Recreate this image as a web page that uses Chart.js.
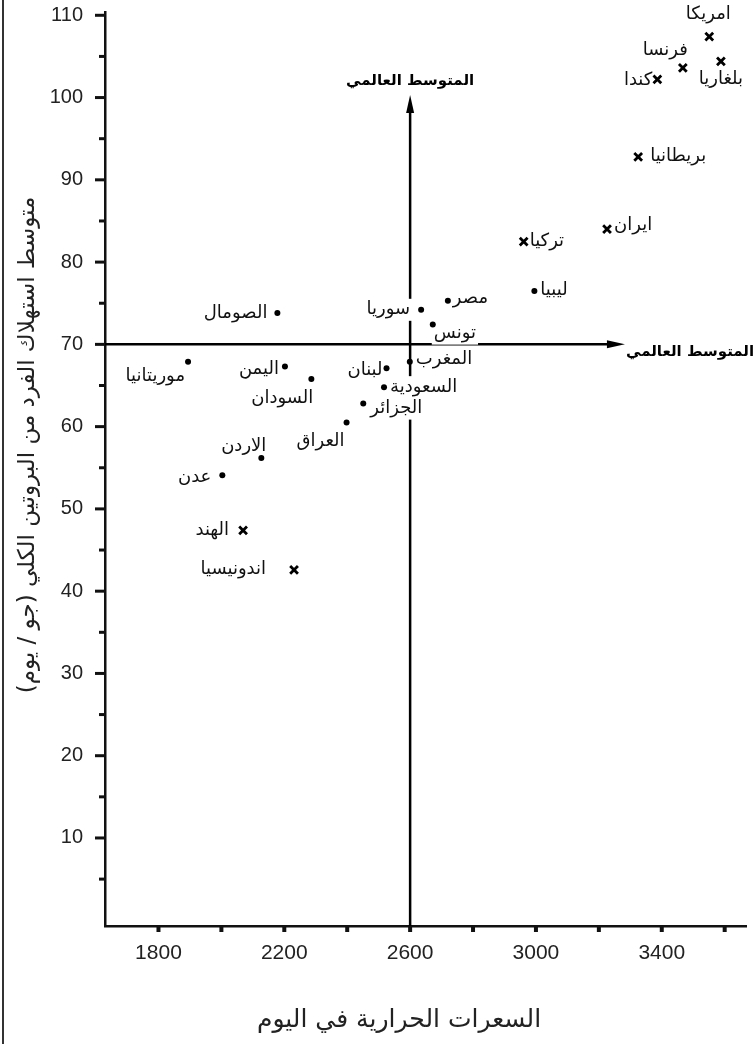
<!DOCTYPE html>
<html lang="ar">
  <head>
    <meta charset="UTF-8" />
    <meta name="viewport" content="width=device-width, initial-scale=1.0" />
    <title>البروتين والسعرات الحرارية</title>
    <style>
      body {
        margin: 0;
        background-color: #ffffff;
      }
      .chart {
        position: relative;
        width: 755px;
        height: 1044px;
      }
      /* the thin frame line on the left edge */
      .chart::before {
        content: "";
        position: absolute;
        left: 2px;
        top: 0;
        bottom: 0;
        width: 2px;
        background-color: #333;
      }
    </style>
    <script src="https://cdn.jsdelivr.net/npm/chart.js"></script>
  </head>
  <body>
    <div class="chart">
      <canvas id="myChart"></canvas>
    </div>
    <script>
      // arab / developing countries (dots)
      const dotCountries = ["الصومال", "موريتانيا", "اليمن", "السودان", "سوريا", "مصر", "تونس", "المغرب", "لبنان", "السعودية", "الجزائر", "العراق", "الاردن", "عدن", "ليبيا"];
      const dotCalories = [2178, 1894, 2202, 2286, 2635, 2720, 2672, 2599, 2525, 2517, 2451, 2398, 2127, 2003, 2995];
      const dotProtein = [73.8, 67.9, 67.3, 65.8, 74.2, 75.3, 72.4, 67.9, 67.1, 64.8, 62.8, 60.5, 56.2, 54.1, 76.5];

      // other countries (crosses)
      const crossCountries = ["امريكا", "بلغاريا", "فرنسا", "كندا", "بريطانيا", "ايران", "تركيا", "الهند", "اندونيسيا"];
      const crossCalories = [3551, 3588, 3467, 3386, 3325, 3226, 2961, 2069, 2231];
      const crossProtein = [107.4, 104.4, 103.6, 102.2, 92.8, 84.0, 82.5, 47.4, 42.6];

      // world averages
      const worldCalories = 2600;
      const worldProtein = 70;
      const worldLabel = "المتوسط العالمي";

      const xTicks = [1800, 2000, 2200, 2400, 2600, 2800, 3000, 3200, 3400, 3600];
      const yTicks = [5, 10, 15, 20, 25, 30, 35, 40, 45, 50, 55, 60, 65, 70, 75, 80, 85, 90, 95, 100, 105, 110];

      const xTitle = "السعرات الحرارية في اليوم";
      const yTitle = "متوسط استهلاك الفرد من البروتين الكلي (جو / يوم)";

      // where each name sits around its mark: [align, dx, dy] in px
      const labelPlace = {
        "الصومال": ["right", -10, 0],
        "موريتانيا": ["right", -3, 15],
        "اليمن": ["right", -6, 3],
        "السودان": ["right", 2, 19],
        "سوريا": ["right", -11, 0],
        "مصر": ["left", 5, -2],
        "تونس": ["left", 1, 9],
        "المغرب": ["left", 6, -2],
        "لبنان": ["right", -4, 2],
        "السعودية": ["left", 6, 0],
        "الجزائر": ["left", 7, 5],
        "العراق": ["right", -2, 19],
        "الاردن": ["right", 5, -12],
        "عدن": ["right", -11, 2],
        "ليبيا": ["left", 6, -1],
        "امريكا": ["center", -1, -22],
        "بلغاريا": ["center", 0, 18],
        "فرنسا": ["right", 5, -18],
        "كندا": ["right", -5, 1],
        "بريطانيا": ["left", 12, 0],
        "ايران": ["left", 7, -4],
        "تركيا": ["left", 6, 0],
        "الهند": ["right", -14, 0],
        "اندونيسيا": ["right", -28, 0]
      };

      const arabicFont = '"DejaVu Sans", sans-serif';
      const ink = "#111";

      function toPoints(xs, ys, names) {
        return xs.map((x, i) => ({ x: x, y: ys[i], name: names[i] }));
      }

      function drawName(ctx, text, px, py, align) {
        ctx.font = "18px " + arabicFont;
        const w = ctx.measureText(text).width;
        let left = px;
        if (align === "right") left = px - w;
        if (align === "center") left = px - w / 2;
        ctx.fillStyle = "#fff";
        ctx.fillRect(left - 2, py - 11, w + 4, 22);
        ctx.fillStyle = ink;
        ctx.textAlign = align;
        ctx.textBaseline = "middle";
        ctx.fillText(text, px, py);
      }

      const annotate = {
        id: "annotate",
        beforeDatasetsDraw(chart) {
          const ctx = chart.ctx;
          const xs = chart.scales.x;
          const ys = chart.scales.y;
          const mx = xs.getPixelForValue(worldCalories);
          const my = ys.getPixelForValue(worldProtein);
          const topY = ys.getPixelForValue(100.3);
          const rightX = xs.getPixelForValue(3283);
          ctx.save();
          ctx.direction = "rtl";
          ctx.strokeStyle = "#000";
          ctx.fillStyle = "#000";
          ctx.lineWidth = 2.5;
          // vertical average line with arrow
          ctx.beginPath();
          ctx.moveTo(mx, ys.bottom);
          ctx.lineTo(mx, topY + 12);
          ctx.stroke();
          ctx.beginPath();
          ctx.moveTo(mx, topY);
          ctx.lineTo(mx - 4, topY + 18);
          ctx.lineTo(mx + 4, topY + 18);
          ctx.closePath();
          ctx.fill();
          // horizontal average line with arrow
          ctx.beginPath();
          ctx.moveTo(xs.left, my);
          ctx.lineTo(rightX - 12, my);
          ctx.stroke();
          ctx.beginPath();
          ctx.moveTo(rightX, my);
          ctx.lineTo(rightX - 18, my - 4);
          ctx.lineTo(rightX - 18, my + 4);
          ctx.closePath();
          ctx.fill();

          ctx.font = "bold 15px " + arabicFont;
          ctx.textBaseline = "middle";
          ctx.textAlign = "center";
          ctx.fillText(worldLabel, mx, topY - 14);
          ctx.textAlign = "left";
          ctx.fillText(worldLabel, rightX + 1, my + 8);

          // country names
          chart.data.datasets.forEach((ds) => {
            ds.data.forEach((p) => {
              const place = labelPlace[p.name];
              const px = xs.getPixelForValue(p.x) + place[1];
              const py = ys.getPixelForValue(p.y) + place[2];
              drawName(ctx, p.name, px, py, place[0]);
            });
          });
          ctx.restore();
        },
        afterDraw(chart) {
          const ctx = chart.ctx;
          const xs = chart.scales.x;
          const ys = chart.scales.y;
          ctx.save();
          ctx.strokeStyle = ink;
          // y tick marks, long on tens
          ctx.lineWidth = 3;
          yTicks.forEach((v) => {
            const py = ys.getPixelForValue(v);
            const len = v % 10 === 0 ? 10 : 6;
            ctx.beginPath();
            ctx.moveTo(ys.right - len, py);
            ctx.lineTo(ys.right, py);
            ctx.stroke();
          });
          // x tick marks
          ctx.lineWidth = 4;
          xTicks.forEach((v) => {
            const px = xs.getPixelForValue(v);
            ctx.beginPath();
            ctx.moveTo(px, xs.top);
            ctx.lineTo(px, xs.top + 6);
            ctx.stroke();
          });
          // axis titles
          ctx.direction = "rtl";
          ctx.fillStyle = "#222";
          ctx.textAlign = "center";
          ctx.textBaseline = "middle";
          ctx.font = "25px " + arabicFont;
          ctx.fillText(xTitle, 399, 1020);
          ctx.translate(28, 445);
          ctx.rotate(-Math.PI / 2);
          ctx.font = "23px " + arabicFont;
          ctx.fillText(yTitle, 0, 0);
          ctx.restore();
        }
      };

      const config = {
        type: "scatter",
        data: {
          datasets: [
            {
              label: "دول عربية ونامية",
              data: toPoints(dotCalories, dotProtein, dotCountries),
              pointStyle: "circle",
              pointRadius: 3,
              backgroundColor: "#000",
              borderColor: "#000",
              borderWidth: 0
            },
            {
              label: "دول أخرى",
              data: toPoints(crossCalories, crossProtein, crossCountries),
              pointStyle: "crossRot",
              pointRadius: 5.5,
              borderColor: "#000",
              borderWidth: 2.8
            }
          ]
        },
        options: {
          responsive: true,
          maintainAspectRatio: false,
          animation: false,
          events: [],
          layout: { padding: { top: 12, right: 2, left: 0, bottom: 0 } },
          plugins: {
            legend: { display: false },
            tooltip: { enabled: false }
          },
          scales: {
            x: {
              type: "linear",
              min: 1630,
              max: 3670,
              afterBuildTicks: (scale) => {
                scale.ticks = xTicks.map((v) => ({ value: v }));
              },
              afterFit: (scale) => {
                scale.height = 118;
                scale.paddingLeft = 0;
                scale.paddingRight = 0;
              },
              grid: { display: true, drawOnChartArea: false, drawTicks: false },
              border: { display: true, color: ink, width: 2.5 },
              ticks: {
                padding: 15,
                color: "#222",
                maxRotation: 0,
                autoSkip: false,
                font: { family: '"Liberation Sans", Arial, sans-serif', size: 21 },
                callback: (v) => ((v - 1800) % 400 === 0 ? v : "")
              }
            },
            y: {
              type: "linear",
              min: -0.7,
              max: 110.4,
              afterBuildTicks: (scale) => {
                scale.ticks = yTicks.map((v) => ({ value: v }));
              },
              afterFit: (scale) => {
                scale.width = 105;
                scale.paddingTop = 0;
                scale.paddingBottom = 0;
              },
              grid: { display: true, drawOnChartArea: false, drawTicks: false },
              border: { display: true, color: ink, width: 2.5 },
              ticks: {
                padding: 22,
                color: "#222",
                autoSkip: false,
                font: { family: '"Liberation Sans", Arial, sans-serif', size: 20 },
                callback: (v) => (v % 10 === 0 ? v : "")
              }
            }
          }
        },
        plugins: [annotate]
      };

      const myChart = new Chart(document.getElementById("myChart"), config);
    </script>
  </body>
</html>
